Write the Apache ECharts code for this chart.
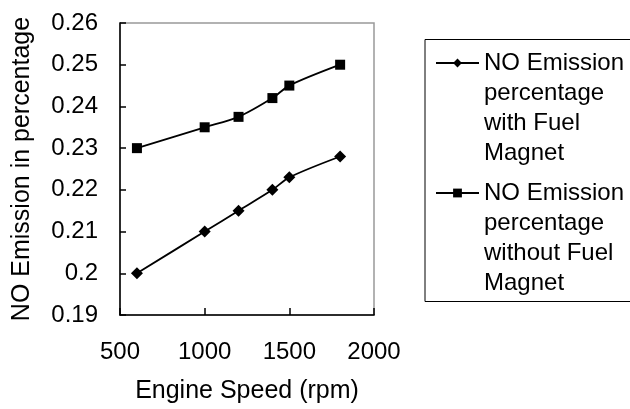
<!DOCTYPE html>
<html>
<head>
<meta charset="utf-8">
<script src="https://cdn.jsdelivr.net/npm/echarts@6/dist/echarts.min.js"></script>
<style>
html,body{margin:0;padding:0;background:#fff;}
#main{width:630px;height:409px;}
</style>
</head>
<body>
<div id="main"></div>
<script>
var engineSpeed = [600, 1000, 1200, 1400, 1500, 1800];
var withMagnet = [0.2, 0.21, 0.215, 0.22, 0.223, 0.228];
var withoutMagnet = [0.23, 0.235, 0.2375, 0.242, 0.245, 0.25];
var nameWith = 'NO Emission\npercentage\nwith Fuel\nMagnet';
var nameWithout = 'NO Emission\npercentage\nwithout Fuel\nMagnet';

function pairs(xs, ys) { return xs.map(function (x, i) { return [x, ys[i]]; }); }

var FONT = '"Liberation Sans", Arial, sans-serif';
var chart = echarts.init(document.getElementById('main'), null, {renderer: 'canvas'});

function legendFor(name, top) {
  return {
    data: [name],
    orient: 'vertical',
    left: 435,
    top: top,
    padding: 0,
    itemWidth: 43,
    itemHeight: 11,
    selectedMode: false,
    formatter: function (n) { return '\n\n\n' + n; },
    textStyle: {
      fontFamily: FONT, fontSize: 24, color: '#000', lineHeight: 30
    }
  };
}

chart.setOption({
  animation: false,
  backgroundColor: '#fff',
  grid: {
    left: 120, right: 256, top: 23, bottom: 93,
    show: true, borderColor: '#999', borderWidth: 1.5, backgroundColor: '#fff'
  },
  legend: [legendFor(nameWith, -42), legendFor(nameWithout, 88)],
  graphic: [{
    type: 'rect', silent: true, z: -1,
    shape: {x: 425, y: 39.5, width: 260, height: 262},
    style: {fill: '#fff', stroke: '#000', lineWidth: 1}
  }],
  xAxis: {
    type: 'value', min: 500, max: 2000, interval: 500,
    name: 'Engine Speed (rpm)', nameLocation: 'middle', nameGap: 64,
    nameTextStyle: {fontFamily: FONT, fontSize: 25, color: '#000'},
    axisLine: {show: true, onZero: false, lineStyle: {color: '#000', width: 1.5}},
    axisTick: {show: true, inside: true, length: 7, lineStyle: {color: '#000', width: 1.5}},
    axisLabel: {fontFamily: FONT, fontSize: 24, color: '#000', margin: 25,
      formatter: function (v) { return String(v); }},
    splitLine: {show: false}
  },
  yAxis: {
    type: 'value', min: 0.19, max: 0.26, interval: 0.01,
    name: 'NO Emission in percentage', nameLocation: 'middle', nameGap: 85,
    nameTextStyle: {fontFamily: FONT, fontSize: 25, color: '#000'},
    axisLine: {show: true, onZero: false, lineStyle: {color: '#000', width: 1.5}},
    axisTick: {show: true, inside: true, length: 6, lineStyle: {color: '#000', width: 1.5}},
    axisLabel: {
      fontFamily: FONT, fontSize: 24, color: '#000', margin: 22,
      formatter: function (v) { return String(+v.toFixed(3)); }
    },
    splitLine: {show: false}
  },
  series: [{
    name: nameWith, type: 'line', data: pairs(engineSpeed, withMagnet),
    smooth: 0.3, symbol: 'diamond', symbolSize: 12,
    lineStyle: {color: '#000', width: 1.8},
    itemStyle: {color: '#000'}
  }, {
    name: nameWithout, type: 'line', data: pairs(engineSpeed, withoutMagnet),
    smooth: 0.3, symbol: 'rect', symbolSize: 10,
    lineStyle: {color: '#000', width: 1.8},
    itemStyle: {color: '#000'}
  }]
});
</script>
</body>
</html>
